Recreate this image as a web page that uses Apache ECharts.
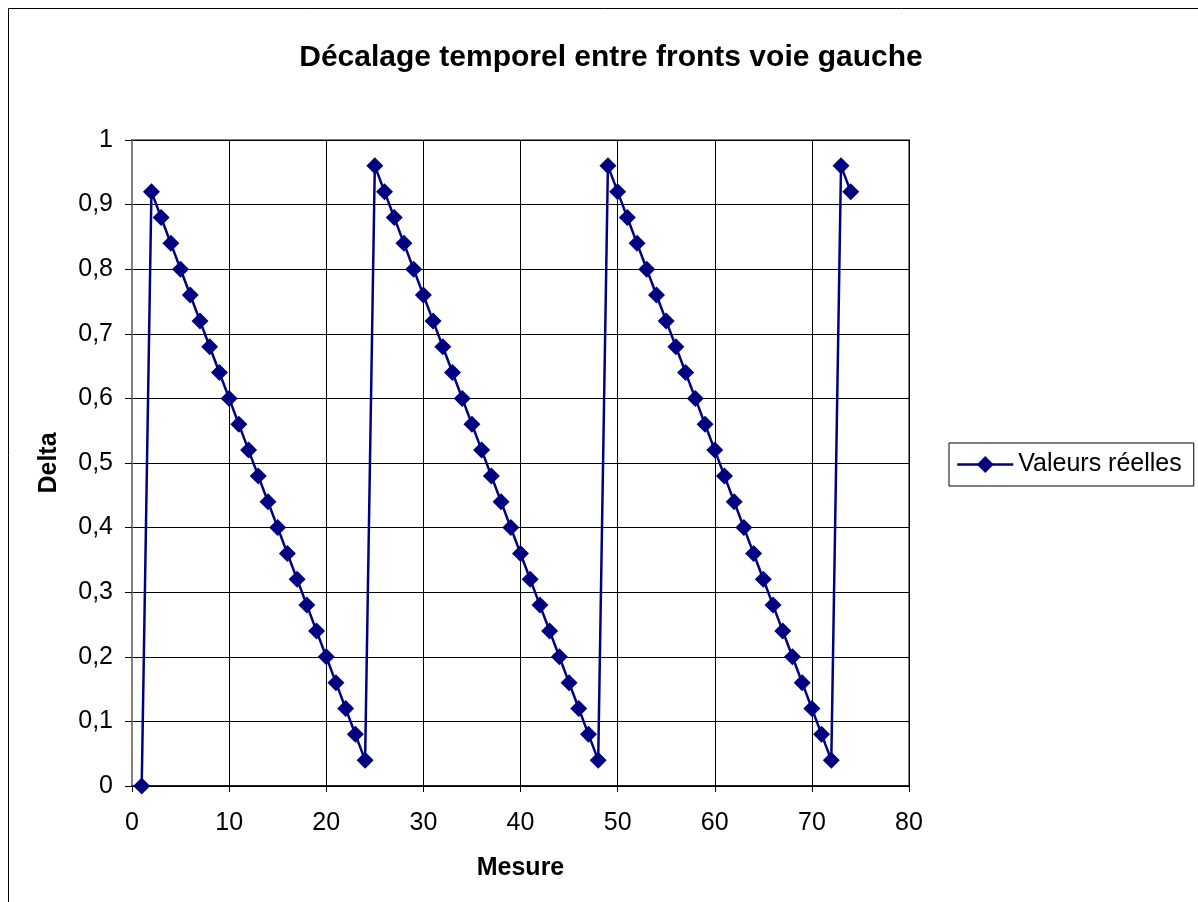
<!DOCTYPE html>
<html>
<head>
<meta charset="utf-8">
<title>Décalage temporel entre fronts voie gauche</title>
<script src="https://cdn.jsdelivr.net/npm/echarts@6/dist/echarts.min.js"></script>
<style>
  html, body { margin: 0; padding: 0; background: #fff; }
  #chart { width: 1198px; height: 902px; }
</style>
</head>
<body>
<div id="chart"></div>
<script>
// mesures 1..74
const mesures = [
  1, 2, 3, 4, 5, 6, 7, 8, 9, 10, 11, 12, 13, 14, 15, 16, 17, 18, 19, 20,
  21, 22, 23, 24, 25, 26, 27, 28, 29, 30, 31, 32, 33, 34, 35, 36, 37, 38, 39, 40,
  41, 42, 43, 44, 45, 46, 47, 48, 49, 50, 51, 52, 53, 54, 55, 56, 57, 58, 59, 60,
  61, 62, 63, 64, 65, 66, 67, 68, 69, 70, 71, 72, 73, 74
]
// valeurs
const deltas = [
  0, 0.92, 0.88, 0.84, 0.80, 0.76, 0.72, 0.68, 0.64, 0.60, 0.56, 0.52, 0.48, 0.44, 0.40, 0.36, 0.32, 0.28, 0.24, 0.20,
  0.16, 0.12, 0.08, 0.04, 0.96, 0.92, 0.88, 0.84, 0.80, 0.76, 0.72, 0.68, 0.64, 0.60, 0.56, 0.52, 0.48, 0.44, 0.40, 0.36,
  0.32, 0.28, 0.24, 0.20, 0.16, 0.12, 0.08, 0.04, 0.96, 0.92, 0.88, 0.84, 0.80, 0.76, 0.72, 0.68, 0.64, 0.60, 0.56, 0.52,
  0.48, 0.44, 0.40, 0.36, 0.32, 0.28, 0.24, 0.20, 0.16, 0.12, 0.08, 0.04, 0.96, 0.92
]

const font = 'Arial, "Liberation Sans", sans-serif'
const chart = echarts.init(document.getElementById('chart'))

chart.setOption({
  animation: false,
  backgroundColor: '#fff',
  textStyle: { fontFamily: font },
  title: {
    text: 'Décalage temporel entre fronts voie gauche',
    left: 606,
    top: 38,
    textAlign: 'center',
    textStyle: { fontSize: 30, fontWeight: 'bold', color: '#000', fontFamily: font }
  },
  graphic: [
    {
      type: 'rect',
      shape: { x: 8.5, y: 8.5, width: 1300, height: 1000 },
      style: { fill: 'none', stroke: '#000', lineWidth: 1 },
      silent: true
    }
  ],
  legend: {
    left: 949,
    top: 443,
    orient: 'vertical',
    itemWidth: 56,
    itemHeight: 21,
    itemGap: 0,
    padding: [8, 12, 8, 7],
    borderColor: '#000',
    borderWidth: 1,
    lineStyle: { width: 2.5, color: '#000080' },
    textStyle: { fontSize: 25, lineHeight: 25, color: '#000', fontFamily: font, padding: [2, 0, 0, 0] },
    data: ['Valeurs réelles']
  },
  grid: {
    left: 132,
    top: 140,
    right: 289,
    bottom: 116,
    show: true,
    borderColor: '#808080',
    borderWidth: 2,
    backgroundColor: '#fff'
  },
  xAxis: {
    type: 'value',
    min: 0,
    max: 80,
    interval: 10,
    name: 'Mesure',
    nameLocation: 'middle',
    nameGap: 70,
    nameTextStyle: { fontSize: 25, fontWeight: 'bold', color: '#000', fontFamily: font },
    axisLine: { show: true, onZero: false, lineStyle: { color: '#000', width: 1.5 } },
    axisTick: { show: true, inside: false, length: 6, lineStyle: { color: '#000' } },
    axisLabel: { fontSize: 25, color: '#000', margin: 25, fontFamily: font },
    splitLine: { show: true, lineStyle: { color: '#000', width: 1 } }
  },
  yAxis: {
    type: 'value',
    min: 0,
    max: 1,
    interval: 0.1,
    name: 'Delta',
    nameLocation: 'middle',
    nameGap: 70,
    nameTextStyle: { fontSize: 25, fontWeight: 'bold', color: '#000', fontFamily: font },
    axisLine: { show: true, lineStyle: { color: '#808080', width: 2 } },
    axisTick: { show: true, inside: false, length: 7, lineStyle: { color: '#000' } },
    axisLabel: {
      fontSize: 25,
      color: '#000',
      margin: 19,
      fontFamily: font,
      formatter: (v) => String(Math.round(v * 10) / 10).replace('.', ',')
    },
    splitLine: { show: true, lineStyle: { color: '#000', width: 1 } }
  },
  series: [
    {
      name: 'Valeurs réelles',
      type: 'line',
      data: mesures.map((m, i) => [m, deltas[i]]),
      symbol: 'diamond',
      symbolSize: 17,
      showAllSymbol: true,
      lineStyle: { color: '#000080', width: 2.5 },
      itemStyle: { color: '#000080' }
    }
  ]
})
</script>
</body>
</html>
